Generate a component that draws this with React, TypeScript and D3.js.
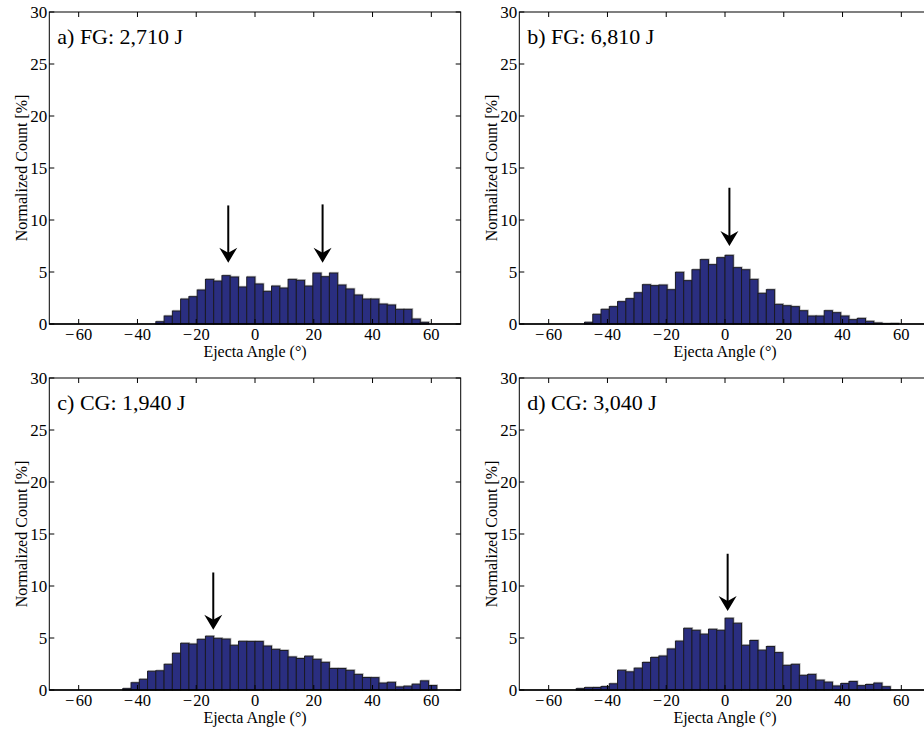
import React from 'react';
import * as d3 from 'd3';

const xTicks = [-60, -40, -20, 0, 20, 40, 60];
const yTicks = [0, 5, 10, 15, 20, 25, 30];
const binWidth = 180 / 64;

const titles = ['a) FG: 2,710 J', 'b) FG: 6,810 J', 'c) CG: 1,940 J', 'd) CG: 3,040 J'];
const firstBins = [-12, -17, -16, -18];

const countsA = [0.22, 0.77, 1.25, 2.4, 2.63, 3.27, 4.29, 4.13, 4.65, 4.52, 3.56, 4.52, 3.85, 3.14, 3.65, 3.46, 4.29, 4.2, 3.65, 4.9, 4.55, 4.9, 3.75, 3.37, 2.79, 2.4, 2.4, 1.92, 1.83, 1.41, 1.41, 0.48, 0.16];
const countsB = [0.16, 0.93, 1.41, 1.67, 2.15, 2.44, 3.01, 3.78, 3.69, 3.75, 3.3, 4.97, 4.17, 5.22, 6.19, 5.71, 6.38, 6.6, 5.42, 5.22, 4.29, 2.95, 3.3, 1.89, 1.76, 1.67, 1.28, 0.77, 0.77, 1.28, 1.09, 0.77, 0.42, 0.54, 0.26, 0.1, 0.03, 0.05];
const countsC = [0.13, 0.7, 1.03, 1.8, 1.85, 2.47, 3.53, 4.49, 4.42, 4.87, 5.17, 4.97, 4.9, 4.3, 4.68, 4.67, 4.67, 4.23, 3.91, 3.8, 3.18, 3.03, 3.25, 2.95, 2.66, 2.07, 2.07, 1.89, 1.5, 1.2, 1.19, 0.67, 0.74, 0.3, 0.37, 0.56, 0.88, 0.43];
const countsD = [0.13, 0.23, 0.24, 0.33, 0.6, 1.9, 1.75, 2.1, 2.65, 3.13, 3.27, 3.95, 4.7, 5.93, 5.74, 5.37, 5.84, 5.74, 6.9, 6.42, 4.3, 4.76, 3.83, 4.18, 3.6, 2.37, 2.47, 1.41, 1.5, 0.95, 0.76, 0.39, 0.62, 0.82, 0.42, 0.53, 0.67, 0.32];

const arrowXs = [[-9.1, 23.0], [1.5], [-14.2], [0.9]];
const arrowTops = [[11.4, 11.5], [13.1], [11.3], [13.1]];
const arrowTips = [[5.9, 5.9], [7.5], [5.8], [7.6]];

const allCounts = [countsA, countsB, countsC, countsD];

const W = 924;
const H = 729;
const colLeft = [49.3, 519.3];
const rowTop = [12, 378];
const pw = 411.4;
const ph = 312;
const FONT = '"Liberation Serif", "Times New Roman", serif';
const barFill = '#2a2e80';
const barStroke = '#1a1a24';

function tickText(t: number) {
  return t < 0 ? '\u2212\u200A' + d3.format('d')(-t) : d3.format('d')(t);
}

function Panel({ idx }: { idx: number }) {
  const left = colLeft[idx % 2];
  const top = rowTop[Math.floor(idx / 2)];
  const bottom = top + ph;
  const right = left + pw;
  const x = d3.scaleLinear().domain([-70, 70]).range([left, right]);
  const y = d3.scaleLinear().domain([0, 30]).range([bottom, top]);
  const counts = allCounts[idx];
  const fb = firstBins[idx];
  const tl = 5;
  const fmt = d3.format('d');
  return (
    <g>
      {counts.map((v, i) => {
        const x0 = x((fb + i) * binWidth);
        const x1 = x((fb + i + 1) * binWidth);
        return (
          <rect key={'s' + i} x={x0 + 0.8} y={y(v) - 0.8} width={x1 - x0} height={Math.max(0, y(0) - y(v))}
            fill="none" stroke="#b8b8b8" strokeWidth={0.8} />
        );
      })}
      {counts.map((v, i) => {
        const x0 = x((fb + i) * binWidth);
        const x1 = x((fb + i + 1) * binWidth);
        return (
          <rect key={i} x={x0} y={y(v)} width={x1 - x0} height={Math.max(0, y(0) - y(v))}
            fill={barFill} stroke={barStroke} strokeWidth={1} />
        );
      })}
      <rect x={left} y={top} width={pw} height={ph} fill="none" stroke="#000" strokeWidth={1} />
      <line x1={left} x2={right} y1={bottom} y2={bottom} stroke="#000" strokeWidth={1.6} />
      {xTicks.map((t) => (
        <g key={'x' + t}>
          <line x1={x(t)} x2={x(t)} y1={bottom} y2={bottom - tl} stroke="#000" />
          <line x1={x(t)} x2={x(t)} y1={top} y2={top + tl} stroke="#000" />
          <text x={x(t)} y={bottom + 16} textAnchor="middle" fontFamily={FONT} fontSize={16.5}>{tickText(t)}</text>
        </g>
      ))}
      {yTicks.map((t) => (
        <g key={'y' + t}>
          <line x1={left} x2={left + tl} y1={y(t)} y2={y(t)} stroke="#000" />
          <line x1={right} x2={right - tl} y1={y(t)} y2={y(t)} stroke="#000" />
          <text x={left - 2} y={y(t)} dy="0.33em" textAnchor="end" fontFamily={FONT} fontSize={17}>{fmt(t)}</text>
        </g>
      ))}
      <text x={x(0)} y={bottom + 33} textAnchor="middle" fontFamily={FONT} fontSize={16}>Ejecta Angle (°)</text>
      <text transform={`translate(${left - 22},${(top + bottom) / 2}) rotate(-90)`} textAnchor="middle" fontFamily={FONT} fontSize={16}>Normalized Count [%]</text>
      <text x={left + 8} y={top + 32} fontFamily={FONT} fontSize={22}>{titles[idx]}</text>
      {arrowXs[idx].map((ax, j) => {
        const cx = x(ax);
        const yt = y(arrowTops[idx][j]);
        const yp = y(arrowTips[idx][j]);
        const hl = 15;
        const hw = 9;
        return (
          <g key={'a' + j}>
            <line x1={cx} x2={cx} y1={yt} y2={yp - 8} stroke="#000" strokeWidth={2} />
            <path d={`M${cx},${yp} L${cx - hw},${yp - hl} L${cx},${yp - hl + 5} L${cx + hw},${yp - hl} Z`} fill="#000" />
          </g>
        );
      })}
    </g>
  );
}

export default function App() {
  return (
    <svg width={W} height={H} style={{ position: 'absolute', left: 0, top: 0, background: '#fff' }}>
      <rect x={0} y={0} width={W} height={H} fill="#fff" />
      {[0, 1, 2, 3].map((i) => (
        <Panel key={i} idx={i} />
      ))}
    </svg>
  );
}
